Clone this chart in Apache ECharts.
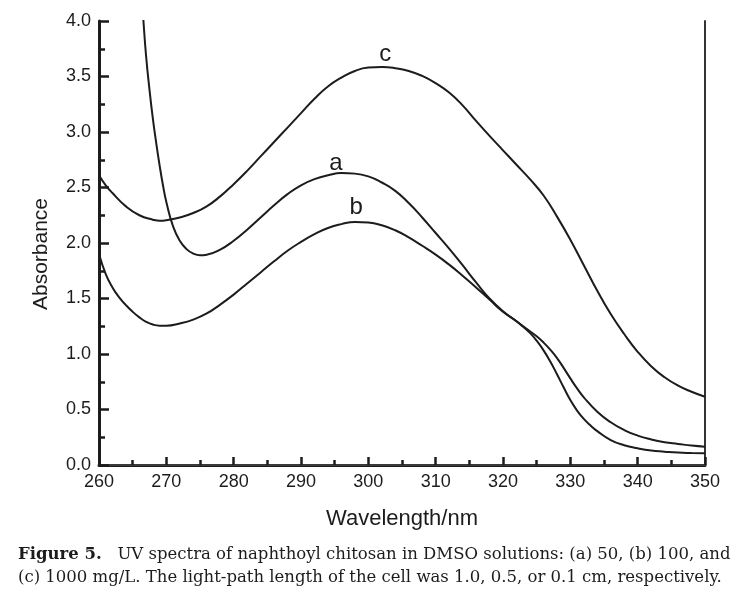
<!DOCTYPE html>
<html>
<head>
<meta charset="utf-8">
<script src="https://cdn.jsdelivr.net/npm/echarts@6/dist/echarts.min.js"></script>
<style>
  html, body { margin: 0; padding: 0; background: #fff; }
  #chart-show { width: 743px; height: 611px; }
</style>
</head>
<body>
<div id="chart-show"></div>
<script>
// wavelength (nm) and absorbance
var wlA = [266.3, 266.6, 267, 267.5, 268, 268.5, 269, 269.5, 270, 271, 272, 273, 274, 275, 276, 278, 280, 282, 284, 286, 288, 290, 292, 294, 296, 298, 300, 302, 304, 306, 308, 310, 312, 314, 316, 318, 320, 322, 323, 324, 325, 326, 327, 328, 329, 330, 331, 332, 334, 336, 338, 340, 342, 344, 346, 348, 350];
var absA = [4.28, 4.00, 3.68, 3.38, 3.12, 2.90, 2.70, 2.52, 2.37, 2.15, 2.02, 1.945, 1.905, 1.89, 1.895, 1.94, 2.02, 2.12, 2.23, 2.34, 2.44, 2.52, 2.575, 2.61, 2.63, 2.625, 2.60, 2.545, 2.47, 2.36, 2.23, 2.09, 1.95, 1.80, 1.645, 1.50, 1.385, 1.295, 1.25, 1.205, 1.16, 1.105, 1.04, 0.965, 0.875, 0.78, 0.69, 0.61, 0.48, 0.385, 0.315, 0.265, 0.23, 0.205, 0.19, 0.175, 0.165];

var wlB = [260, 261, 262, 263, 264, 265, 266, 267, 268, 269, 270, 272, 274, 276, 278, 280, 282, 284, 286, 288, 290, 292, 294, 296, 298, 300, 302, 304, 306, 308, 310, 312, 314, 316, 318, 320, 322, 323, 324, 325, 326, 327, 328, 329, 330, 331, 332, 333, 334, 336, 338, 340, 342, 344, 346, 348, 350];
var absB = [1.90, 1.72, 1.60, 1.51, 1.44, 1.38, 1.33, 1.29, 1.265, 1.255, 1.255, 1.275, 1.31, 1.365, 1.445, 1.535, 1.635, 1.735, 1.835, 1.93, 2.01, 2.08, 2.135, 2.17, 2.19, 2.185, 2.16, 2.115, 2.05, 1.975, 1.895, 1.805, 1.705, 1.60, 1.49, 1.38, 1.295, 1.245, 1.19, 1.12, 1.035, 0.935, 0.82, 0.70, 0.585, 0.49, 0.415, 0.355, 0.305, 0.225, 0.178, 0.15, 0.13, 0.12, 0.112, 0.108, 0.105];

var wlC = [260, 261, 262, 264, 266, 268, 269, 270, 272, 274, 276, 278, 280, 282, 284, 286, 288, 290, 292, 294, 296, 298, 300, 302, 304, 306, 308, 310, 312, 314, 316, 318, 320, 322, 324, 326, 328, 330, 332, 334, 336, 338, 340, 342, 344, 346, 348, 350];
var absC = [2.61, 2.52, 2.45, 2.33, 2.25, 2.21, 2.20, 2.205, 2.23, 2.27, 2.33, 2.42, 2.53, 2.65, 2.78, 2.91, 3.04, 3.17, 3.30, 3.41, 3.49, 3.55, 3.58, 3.585, 3.575, 3.55, 3.505, 3.44, 3.355, 3.24, 3.10, 2.965, 2.835, 2.705, 2.575, 2.43, 2.24, 2.03, 1.80, 1.57, 1.36, 1.18, 1.02, 0.89, 0.79, 0.715, 0.66, 0.615];

// curve letters and where they sit (wavelength, absorbance)
var curveNames = ['a', 'b', 'c'];
var labelAt = [[295.2, 2.72], [298.2, 2.32], [302.5, 3.70]];

var xTicks = [260, 270, 280, 290, 300, 310, 320, 330, 340, 350];

function pairs(xs, ys) {
    var out = [];
    for (var i = 0; i < xs.length; i++) out.push([xs[i], ys[i]]);
    return out;
}

var ink = '#1c1c1c';
var sans = '"Liberation Sans", Arial, sans-serif';
var serif = '"DejaVu Serif", serif';

function curve(name, data, at) {
    return {
        name: name,
        type: 'line',
        data: data,
        smooth: 0.5,
        symbol: 'none',
        clip: true,
        lineStyle: { color: ink, width: 2 },
        markPoint: {
            symbol: 'circle',
            symbolSize: 1,
            itemStyle: { color: 'rgba(0,0,0,0)' },
            label: {
                show: true,
                position: 'inside',
                formatter: name,
                fontFamily: sans,
                fontSize: 24,
                color: ink
            },
            data: [{ coord: at }]
        }
    };
}

var myChart = echarts.init(document.getElementById('chart-show'));

var option = {
    backgroundColor: '#fff',
    animation: false,
    grid: { left: 99, right: 38, top: 21, bottom: 146, containLabel: false },
    xAxis: [{
        type: 'value',
        min: 260,
        max: 350,
        interval: 10,
        position: 'bottom',
        name: 'Wavelength/nm',
        nameLocation: 'middle',
        nameGap: 43,
        nameTextStyle: { fontFamily: sans, fontSize: 22, color: ink },
        axisLine: { lineStyle: { color: ink, width: 3 } },
        axisTick: { inside: true, length: 8, lineStyle: { color: ink, width: 2.5 } },
        minorTick: { show: true, splitNumber: 2, length: 5, lineStyle: { color: ink, width: 2.5 } },
        axisLabel: {
            margin: 8,
            fontFamily: sans,
            fontSize: 18,
            color: ink,
            formatter: function (v) { return xTicks.indexOf(v) >= 0 ? String(v) : ''; }
        },
        splitLine: { show: false }
    }, {
        type: 'value',
        min: 260,
        max: 350,
        position: 'top',
        axisLine: { lineStyle: { color: '#444', width: 1.5 } },
        axisTick: { show: false },
        axisLabel: { show: false },
        splitLine: { show: false }
    }],
    yAxis: [{
        type: 'value',
        min: 0,
        max: 4,
        interval: 0.5,
        position: 'left',
        axisLine: { show: true, lineStyle: { color: ink, width: 3 } },
        axisTick: { show: true, inside: true, length: 10, lineStyle: { color: ink, width: 2.5 } },
        minorTick: { show: true, splitNumber: 2, length: 6, lineStyle: { color: ink, width: 2.5 } },
        axisLabel: {
            margin: 8,
            fontFamily: sans,
            fontSize: 18,
            color: ink,
            formatter: function (v) { return v.toFixed(1); }
        },
        splitLine: { show: false }
    }, {
        type: 'value',
        min: 0,
        max: 4,
        position: 'right',
        axisLine: { show: true, lineStyle: { color: '#333', width: 2 } },
        axisTick: { show: false },
        axisLabel: { show: false },
        splitLine: { show: false }
    }],
    graphic: [{
        type: 'text',
        x: 41,
        y: 254,
        rotation: Math.PI / 2,
        style: {
            text: 'Absorbance',
            fontFamily: sans,
            fontSize: 21,
            fill: ink,
            align: 'center',
            verticalAlign: 'middle'
        }
    }, {
        type: 'text',
        x: 18,
        y: 555,
        style: {
            text: '{b|Figure 5.}   UV spectra of naphthoyl chitosan in DMSO solutions: (a) 50, (b) 100, and',
            fontFamily: serif,
            fontSize: 16.5,
            fill: ink,
            verticalAlign: 'middle',
            rich: { b: { fontWeight: 'bold', fontFamily: serif, fontSize: 16.5, fill: ink } }
        }
    }, {
        type: 'text',
        x: 18,
        y: 578,
        style: {
            text: '(c) 1000 mg/L. The light-path length of the cell was 1.0, 0.5, or 0.1 cm, respectively.',
            fontFamily: serif,
            fontSize: 16.5,
            fill: ink,
            verticalAlign: 'middle'
        }
    }],
    series: [
        curve(curveNames[0], pairs(wlA, absA), labelAt[0]),
        curve(curveNames[1], pairs(wlB, absB), labelAt[1]),
        curve(curveNames[2], pairs(wlC, absC), labelAt[2])
    ]
};

myChart.setOption(option);
window.onresize = function () {
    myChart.resize();
};
</script>
</body>
</html>
